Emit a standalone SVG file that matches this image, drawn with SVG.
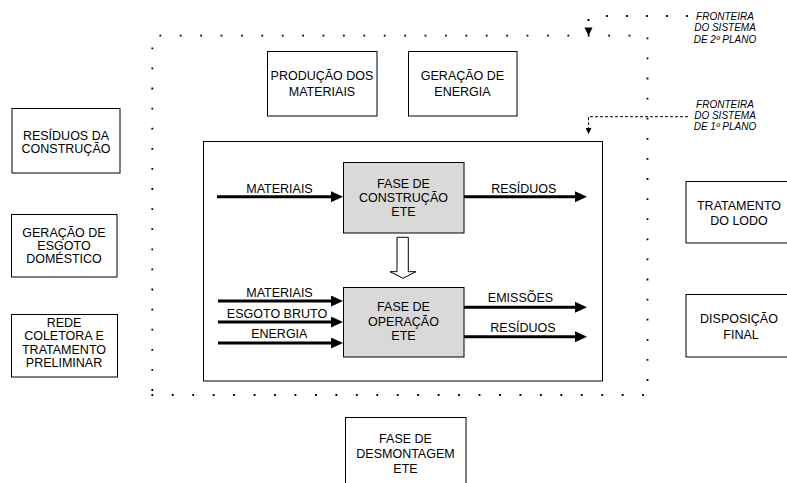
<svg xmlns="http://www.w3.org/2000/svg" width="787" height="483" viewBox="0 0 787 483">
<style>
text{font-family:"Liberation Sans",Arial,sans-serif;font-size:12.5px;fill:#000;text-anchor:middle}
.lbl{font-size:10px;font-style:italic}
.box{fill:#fff;stroke:#000;stroke-width:1}
.frame{fill:none;stroke:#000;stroke-width:1}
.gbox{fill:#d9d9d9;stroke:#000;stroke-width:1}
.dot{fill:none;stroke:#000;stroke-width:1.8}
.flow{fill:none;stroke:#000;stroke-width:3;marker-end:url(#ah)}
</style>
<defs>
<marker id="ah" markerUnits="userSpaceOnUse" markerWidth="12" markerHeight="11" refX="2" refY="5.5" orient="auto">
<path d="M0,0 L12,5.5 L0,11 z" fill="#000"/>
</marker>
<marker id="sah" markerUnits="userSpaceOnUse" markerWidth="6" markerHeight="6" refX="1" refY="3" orient="auto">
<path d="M0,0 L6,3 L0,6 z" fill="#000"/>
</marker>
</defs>

<g id="boundary2">
<path class="dot" d="M159.4,35.7 H632" stroke-dasharray="1.8 18.6"/>
<path class="dot" d="M647.5,37.4 V382" stroke-dasharray="1.8 18.3"/>
<path class="dot" d="M151.4,395 H645" stroke-dasharray="1.8 18.65"/>
<path class="dot" d="M152.3,47.4 V392" stroke-dasharray="1.8 18.3"/>
</g>

<g id="inner-boundary">
<rect class="frame" x="203.5" y="141.5" width="399" height="239.5"/>
</g>

<g id="label2">
<text class="lbl" x="725" y="19.5">FRONTEIRA</text>
<text class="lbl" x="725" y="31">DO SISTEMA</text>
<text class="lbl" x="725" y="42.5">DE 2º PLANO</text>
</g>
<g id="label1">
<text class="lbl" x="725" y="107.5">FRONTEIRA</text>
<text class="lbl" x="725" y="118.5">DO SISTEMA</text>
<text class="lbl" x="725" y="129.5">DE 1º PLANO</text>
</g>

<g id="producao-materiais">
<rect class="box" x="267.5" y="51.5" width="109.5" height="64.5"/>
<text x="322" y="79.5">PRODUÇÃO DOS</text>
<text x="322" y="95.5">MATERIAIS</text>
</g>
<g id="geracao-energia">
<rect class="box" x="408.5" y="51.5" width="108.5" height="64.5"/>
<text x="462.5" y="79.5">GERAÇÃO DE</text>
<text x="462.5" y="95.5">ENERGIA</text>
</g>

<g id="residuos-construcao">
<rect class="box" x="12" y="108.5" width="108" height="64.5"/>
<text x="66" y="139.5">RESÍDUOS DA</text>
<text x="66" y="152.5">CONSTRUÇÃO</text>
</g>
<g id="geracao-esgoto">
<rect class="box" x="11.5" y="214.5" width="105.5" height="62.5"/>
<text x="64" y="236.7">GERAÇÃO DE</text>
<text x="64" y="250">ESGOTO</text>
<text x="64" y="263.3">DOMÉSTICO</text>
</g>
<g id="rede-coletora">
<rect class="box" x="11.5" y="314.5" width="106" height="62.5"/>
<text x="64" y="327">REDE</text>
<text x="64" y="340.3">COLETORA E</text>
<text x="64" y="353.6">TRATAMENTO</text>
<text x="64" y="367">PRELIMINAR</text>
</g>

<g id="fase-construcao">
<rect class="gbox" x="343.5" y="162.5" width="120.5" height="70.5"/>
<text x="403.5" y="187.5">FASE DE</text>
<text x="403.5" y="201.7">CONSTRUÇÃO</text>
<text x="403.5" y="216">ETE</text>
</g>
<g id="fase-operacao">
<rect class="gbox" x="343.5" y="287.5" width="120.5" height="69.5"/>
<text x="403.5" y="311">FASE DE</text>
<text x="403.5" y="326">OPERAÇÃO</text>
<text x="403.5" y="340">ETE</text>
</g>

<g id="tratamento-lodo">
<rect class="box" x="686" y="181.5" width="110" height="61.5"/>
<text x="739" y="210">TRATAMENTO</text>
<text x="739" y="225">DO LODO</text>
</g>
<g id="disposicao-final">
<rect class="box" x="686" y="294.5" width="110" height="62.5"/>
<text x="739" y="323.3">DISPOSIÇÃO</text>
<text x="741" y="338.5">FINAL</text>
</g>

<g id="fase-desmontagem">
<rect class="box" x="345.5" y="417.5" width="120.5" height="80"/>
<text x="405.5" y="442.5">FASE DE</text>
<text x="405.5" y="457.5">DESMONTAGEM</text>
<text x="405.5" y="472.5">ETE</text>
</g>

<g id="connectors">
<path class="dot" d="M606.1,16 H690" stroke-dasharray="1.8 18.2"/>
<rect x="587.5" y="19" width="2" height="2"/>
<polygon points="584.5,27.5 592.5,27.5 588.5,36" fill="#000"/>
<path d="M688,116.7 H588.5 V129" fill="none" stroke="#000" stroke-width="1" stroke-dasharray="3 2" marker-end="url(#sah)"/>
<path class="flow" d="M217,196.7 H333"/>
<path class="flow" d="M464,196.7 H577"/>
<path class="flow" d="M218,301 H333"/>
<path class="flow" d="M218,322 H333"/>
<path class="flow" d="M218,343 H333"/>
<path class="flow" d="M464,307.3 H577"/>
<path class="flow" d="M464,336.7 H577"/>
<polygon points="397,237.3 408.3,237.3 408.3,271.7 416,271.7 403,278.3 390,271.7 397,271.7" fill="#fff" stroke="#000" stroke-width="1"/>
<text x="279.5" y="192.5">MATERIAIS</text>
<text x="523.8" y="192.5">RESÍDUOS</text>
<text x="279.5" y="297">MATERIAIS</text>
<text x="277" y="317.5">ESGOTO BRUTO</text>
<text x="279.3" y="338">ENERGIA</text>
<text x="520.5" y="302">EMISSÕES</text>
<text x="523" y="331.5">RESÍDUOS</text>
</g>
</svg>
